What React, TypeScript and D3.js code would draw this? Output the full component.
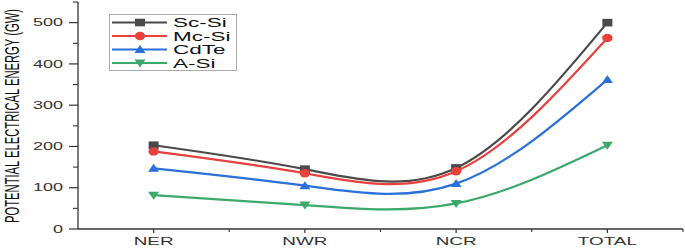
import React from "react";
import * as d3 from "d3";

const categories = ["NER", "NWR", "NCR", "TOTAL"];
const seriesNames = ["Sc-Si", "Mc-Si", "CdTe", "A-Si"];
const scSi = [203, 145, 148, 500];
const mcSi = [188, 135, 140, 463];
const cdTe = [147, 105, 110, 362];
const aSi = [82, 58, 62, 203];
const yTicks = [0, 100, 200, 300, 400, 500];
const colors = ["#4a4a4a", "#e8403c", "#2b6fd8", "#3ba96b"];
const markers = ["square", "circle", "triangleUp", "triangleDown"];

const SX = 1.8;

function WText(props: { x: number; y: number; size: number; anchor?: string; fill?: string; children: React.ReactNode }) {
  const { x, y, size, anchor, fill, children } = props;
  return (
    <g transform={`translate(${x},${y}) scale(${SX},1)`}>
      <text x={0} y={0} fontSize={size} textAnchor={anchor || "start"} fill={fill || "#222"}>
        {children}
      </text>
    </g>
  );
}

export default function App() {
  const W = 685, H = 249;
  const x0 = 78, x1 = 683, yBase = 229;
  const x = d3.scaleLinear().domain([-0.5, 3.5]).range([x0, x1]);
  const y = d3.scaleLinear().domain([0, 550]).range([yBase, 2]);
  const data = [scSi, mcSi, cdTe, aSi];
  const line = d3
    .line<number>()
    .x((_, i) => x(i))
    .y((d) => y(d))
    .curve(d3.curveNatural);

  const marker = (type: string, cx: number, cy: number, color: string, key: string) => {
    if (type === "square")
      return <rect key={key} x={cx - 5} y={cy - 3.8} width={10} height={7.6} fill={color} />;
    if (type === "circle") return <ellipse key={key} cx={cx} cy={cy} rx={5.2} ry={4.2} fill={color} />;
    if (type === "triangleUp")
      return <path key={key} d={`M${cx},${cy - 4.5}L${cx + 5.5},${cy + 3.5}L${cx - 5.5},${cy + 3.5}Z`} fill={color} />;
    return <path key={key} d={`M${cx},${cy + 4.5}L${cx + 5.5},${cy - 3.5}L${cx - 5.5},${cy - 3.5}Z`} fill={color} />;
  };

  const minorY = d3.range(50, 551, 100);
  const minorX = [0.5, 1.5, 2.5, 3.5];

  return (
    <svg width={W} height={H} style={{ position: "absolute", left: 0, top: 0 }} fontFamily="Liberation Sans, Arial, sans-serif">
      <rect width={W} height={H} fill="#fff" />
      <line x1={x0} x2={x0} y1={2} y2={yBase} stroke="#333" strokeWidth={1.3} />
      <line x1={x0} x2={x1} y1={yBase} y2={yBase} stroke="#333" strokeWidth={1.3} />
      {yTicks.map((t) => (
        <g key={"yt" + t}>
          <line x1={x0 - 9} x2={x0} y1={y(t)} y2={y(t)} stroke="#333" strokeWidth={1.2} />
          <WText x={63} y={y(t) + 3.7} size={10} anchor="end" fill="#333">
            {t}
          </WText>
        </g>
      ))}
      {minorY.map((t) => (
        <line key={"ym" + t} x1={x0 - 5} x2={x0} y1={y(t)} y2={y(t)} stroke="#333" strokeWidth={1.1} />
      ))}
      {categories.map((c, i) => (
        <g key={"xt" + c}>
          <line x1={x(i)} x2={x(i)} y1={yBase} y2={yBase + 4} stroke="#333" strokeWidth={1.2} />
          <WText x={x(i)} y={yBase + 16} size={10.5} anchor="middle" fill="#333">
            {c}
          </WText>
        </g>
      ))}
      {minorX.map((v) => (
        <line key={"xm" + v} x1={x(v)} x2={x(v)} y1={yBase} y2={yBase + 3} stroke="#333" strokeWidth={1.1} />
      ))}
      <g transform={`translate(19,${(yBase + 3) / 2}) scale(${SX},1) rotate(-90)`}>
        <text
          x={0}
          y={0}
          textAnchor="middle"
          fontSize={11.5}
          fill="#111"
          textLength={214}
          lengthAdjust="spacingAndGlyphs"
        >
          POTENTIAL ELECTRICAL ENERGY (GW)
        </text>
      </g>
      {data.map((vals, si) => (
        <g key={"s" + si}>
          <path d={line(vals) || ""} fill="none" stroke={colors[si]} strokeWidth={2.2} />
          {vals.map((v, i) => marker(markers[si], x(i), y(v), colors[si], `m${si}-${i}`))}
        </g>
      ))}
      <rect x={109.5} y={14.5} width={127} height={56} fill="#fff" stroke="#aaa" strokeWidth={1} />
      {seriesNames.map((n, i) => {
        const ly = 22.5 + i * 13.5;
        return (
          <g key={"lg" + n}>
            <line x1={112} x2={167} y1={ly} y2={ly} stroke={colors[i]} strokeWidth={2} />
            {marker(markers[i], 140, ly, colors[i], "lm" + i)}
            <WText x={173} y={ly + 4.5} size={12.5} fill="#111">
              {n}
            </WText>
          </g>
        );
      })}
    </svg>
  );
}
